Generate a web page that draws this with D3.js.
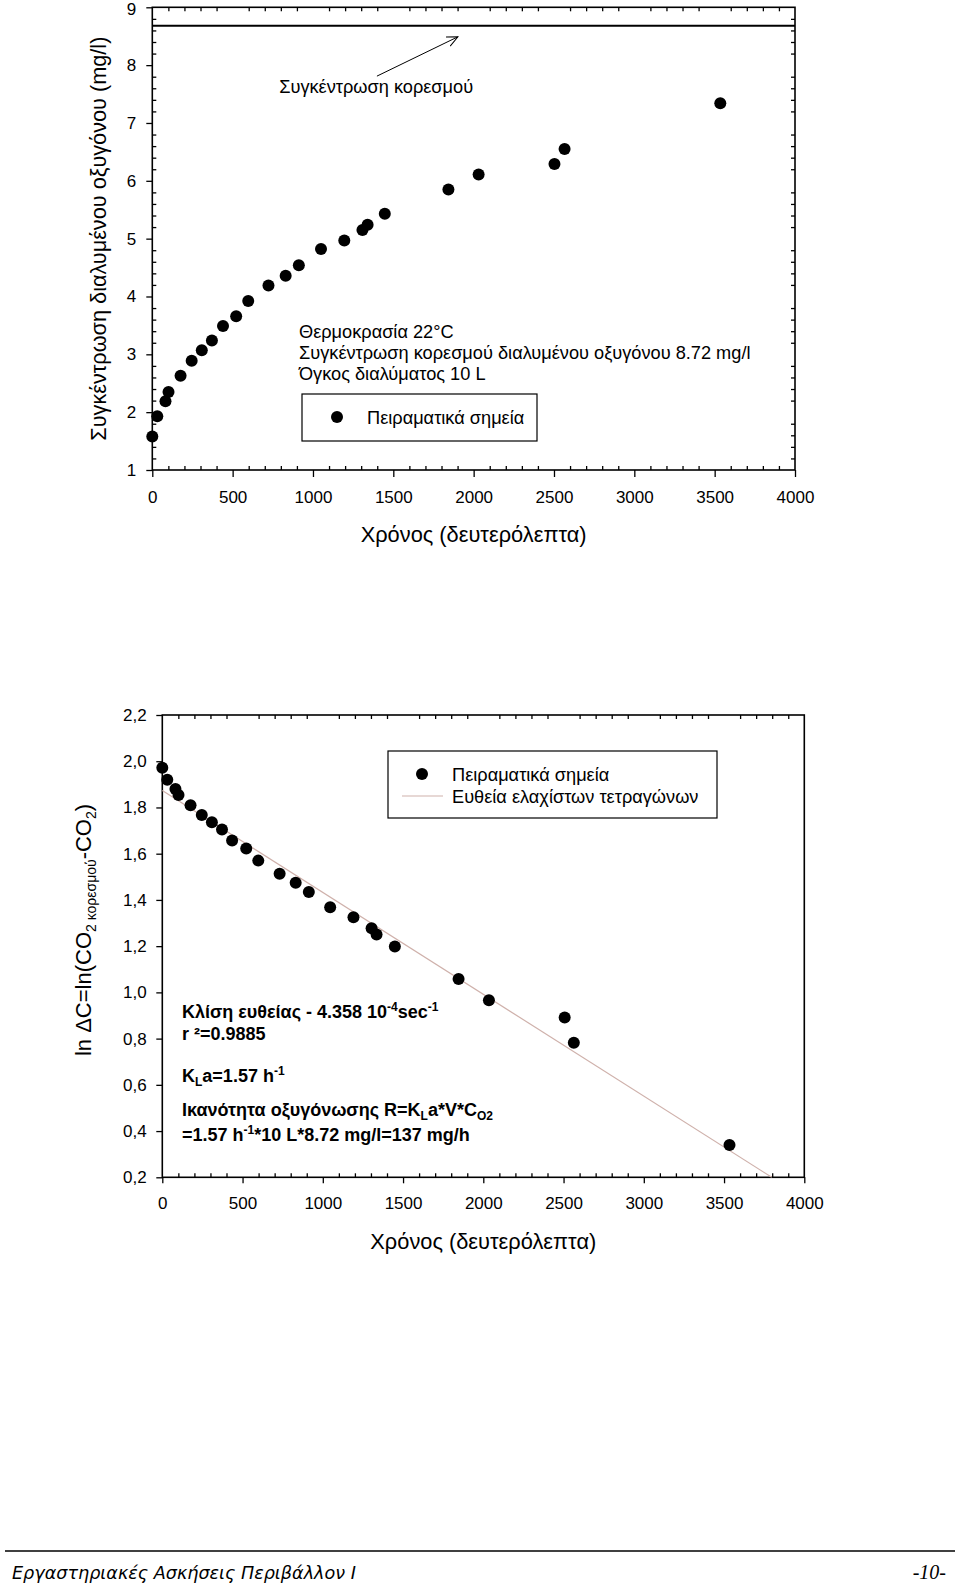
<!DOCTYPE html>
<html><head><meta charset="utf-8">
<script src="https://cdn.jsdelivr.net/npm/d3@7"></script>
<style>
html,body{margin:0;padding:0;background:#fff;}
svg{display:block;}
text{font-family:"Liberation Sans",Arial,sans-serif;fill:#000;}
</style></head>
<body>
<svg id="chart" width="960" height="1584"></svg>
<script>
// ---------- DATA ----------
// Chart 1: dissolved oxygen vs time
const time1 = [0,31,82,101,176,245,308,371,440,522,597,723,830,912,1050,1195,1308,1340,1447,1843,2031,2503,2566,3535];
const oxygen = [1.58,1.93,2.19,2.35,2.63,2.89,3.07,3.24,3.49,3.66,3.92,4.19,4.36,4.54,4.82,4.97,5.15,5.24,5.43,5.85,6.11,6.29,6.55,7.34];
const saturation = 8.68;
const xTicks1 = [0,500,1000,1500,2000,2500,3000,3500,4000];
const yTicks1 = [1,2,3,4,5,6,7,8,9];

// Chart 2: ln(Cs - C) vs time
const time2 = [0,31,82,101,176,246,309,372,435,523,598,731,831,913,1046,1191,1304,1335,1449,1846,2035,2507,2564,3534];
const lnDC = [1.972,1.92,1.88,1.854,1.81,1.767,1.736,1.705,1.657,1.622,1.57,1.513,1.474,1.434,1.368,1.325,1.277,1.25,1.198,1.058,0.966,0.891,0.782,0.34];
const fitX = [0,3797];
const fitY = [1.873,0.2];
const xTicks2 = [0,500,1000,1500,2000,2500,3000,3500,4000];
const yTicks2 = [0.2,0.4,0.6,0.8,1.0,1.2,1.4,1.6,1.8,2.0,2.2];

// ---------- DRAW ----------
const svg = d3.select("#chart");
const minorX = d3.range(0,4001,100);

function frame(g, x, y){
  const [x0,x1]=x.range(), [yb,yt]=y.range();
  g.append("rect").attr("x",x0).attr("y",yt).attr("width",x1-x0).attr("height",yb-yt)
   .attr("fill","none").attr("stroke","#000").attr("stroke-width",1.6);
}
function styleAxis(sel){
  sel.select(".domain").remove();
  sel.selectAll(".tick line").attr("stroke","#000").attr("stroke-width",1.3);
  sel.selectAll(".tick text").style("font-family","'Liberation Sans',Arial,sans-serif").style("font-size","17px").attr("fill","#000");
}

// ===== Chart 1 =====
const x1 = d3.scaleLinear().domain([0,4000]).range([152.3,795]);
const y1 = d3.scaleLinear().domain([1,9]).range([470,7.3]);
const g1 = svg.append("g");

g1.append("g").attr("transform",`translate(0,${y1(1)})`)
  .call(d3.axisBottom(x1).tickValues(xTicks1).tickSize(7).tickPadding(13.5).tickFormat(d3.format("d"))).call(styleAxis);
g1.append("g").attr("transform",`translate(0,${y1(1)})`)
  .call(d3.axisTop(x1).tickValues(minorX.filter(v=>v%500)).tickSize(4).tickFormat("")).call(styleAxis);
g1.append("g").attr("transform",`translate(0,${y1(9)})`)
  .call(d3.axisBottom(x1).tickValues(minorX.filter(v=>v%500)).tickSize(4).tickFormat("")).call(styleAxis);
const yAx1 = g1.append("g").attr("transform",`translate(${x1(0)},0)`)
  .call(d3.axisLeft(y1).tickValues(yTicks1).tickSize(6).tickPadding(10).tickFormat(d3.format("d"))).call(styleAxis);
yAx1.selectAll(".tick text").filter(d=>d===9).attr("dy","0.42em");
const minorY1 = d3.range(1,9.001,0.2).map(v=>+v.toFixed(1)).filter(v=>Math.abs(v-Math.round(v))>1e-6);
g1.append("g").attr("transform",`translate(${x1(0)},0)`)
  .call(d3.axisRight(y1).tickValues(minorY1).tickSize(4).tickFormat("")).call(styleAxis);
g1.append("g").attr("transform",`translate(${x1(4000)},0)`)
  .call(d3.axisLeft(y1).tickValues(minorY1).tickSize(4).tickFormat("")).call(styleAxis);
frame(g1,x1,y1);

// saturation line
g1.append("line").attr("x1",x1(0)).attr("x2",x1(4000)).attr("y1",y1(saturation)).attr("y2",y1(saturation))
  .attr("stroke","#000").attr("stroke-width",2);

// arrow
svg.append("defs").append("marker").attr("id","arr").attr("viewBox","0 0 12 12").attr("refX",11).attr("refY",6)
  .attr("markerWidth",12).attr("markerHeight",12).attr("markerUnits","userSpaceOnUse").attr("orient","auto")
  .append("path").attr("d","M0,1 L11,6 L0,11").attr("fill","none").attr("stroke","#000").attr("stroke-width",1);
g1.append("line").attr("x1",x1(1398)).attr("y1",y1(7.81)).attr("x2",x1(1902)).attr("y2",y1(8.49))
  .attr("stroke","#000").attr("stroke-width",1).attr("marker-end","url(#arr)");
g1.append("text").attr("x",x1(790)).attr("y",y1(7.51)).style("font-size","18.2px").text("Συγκέντρωση κορεσμού");

// points
g1.append("g").selectAll("circle").data(time1.map((t,i)=>[t,oxygen[i]])).join("circle")
  .attr("cx",d=>x1(d[0])).attr("cy",d=>y1(d[1])).attr("r",6).attr("fill","#000");

// info text
const info1 = ["Θερμοκρασία 22°C","Συγκέντρωση κορεσμού διαλυμένου οξυγόνου 8.72 mg/l","Όγκος διαλύματος 10 L"];
g1.append("g").selectAll("text").data(info1).join("text")
  .attr("x",299).attr("y",(d,i)=>338+i*21).style("font-size","18.2px").text(d=>d);
// legend 1
g1.append("rect").attr("x",302).attr("y",394).attr("width",235).attr("height",47)
  .attr("fill","#fff").attr("stroke","#000").attr("stroke-width",1.2);
g1.append("circle").attr("cx",337).attr("cy",417).attr("r",6).attr("fill","#000");
g1.append("text").attr("x",367).attr("y",424).style("font-size","18.2px").text("Πειραματικά σημεία");

// axis titles
g1.append("text").attr("x",(x1(0)+x1(4000))/2).attr("y",542).attr("text-anchor","middle")
  .style("font-size","21.8px").text("Χρόνος (δευτερόλεπτα)");
g1.append("text").attr("transform",`translate(106,${(y1(1)+y1(9))/2}) rotate(-90)`).attr("text-anchor","middle")
  .style("font-size","21.7px").text("Συγκέντρωση διαλυμένου οξυγόνου (mg/l)");

// ===== Chart 2 =====
const x2 = d3.scaleLinear().domain([0,4000]).range([162.3,804.3]);
const y2 = d3.scaleLinear().domain([0.2,2.2]).range([1177.3,715]);
const g2 = svg.append("g");
const commaFmt = v => d3.format(".1f")(v).replace(".",",");

g2.append("g").attr("transform",`translate(0,${y2(0.2)})`)
  .call(d3.axisBottom(x2).tickValues(xTicks2).tickSize(6).tickPadding(13.5).tickFormat(d3.format("d"))).call(styleAxis);
g2.append("g").attr("transform",`translate(0,${y2(0.2)})`)
  .call(d3.axisTop(x2).tickValues(minorX.filter(v=>v%500)).tickSize(4).tickFormat("")).call(styleAxis);
g2.append("g").attr("transform",`translate(0,${y2(2.2)})`)
  .call(d3.axisBottom(x2).tickValues(minorX.filter(v=>v%500)).tickSize(4).tickFormat("")).call(styleAxis);
g2.append("g").attr("transform",`translate(${x2(0)},0)`)
  .call(d3.axisLeft(y2).tickValues(yTicks2).tickSize(6).tickPadding(9.6).tickFormat(commaFmt)).call(styleAxis);
frame(g2,x2,y2);

// regression line
g2.append("line").attr("x1",x2(fitX[0])).attr("y1",y2(fitY[0])).attr("x2",x2(fitX[1])).attr("y2",y2(fitY[1]))
  .attr("stroke","#cfb1ab").attr("stroke-width",1.2);
// points
g2.append("g").selectAll("circle").data(time2.map((t,i)=>[t,lnDC[i]])).join("circle")
  .attr("cx",d=>x2(d[0])).attr("cy",d=>y2(d[1])).attr("r",6).attr("fill","#000");

// legend 2
g2.append("rect").attr("x",388).attr("y",751).attr("width",329).attr("height",67)
  .attr("fill","#fff").attr("stroke","#000").attr("stroke-width",1.2);
g2.append("circle").attr("cx",422).attr("cy",774).attr("r",6).attr("fill","#000");
g2.append("line").attr("x1",402).attr("x2",443).attr("y1",796).attr("y2",796).attr("stroke","#cfb1ab").attr("stroke-width",1.2);
g2.append("text").attr("x",452).attr("y",781).style("font-size","18.2px").text("Πειραματικά σημεία");
g2.append("text").attr("x",452).attr("y",803).style("font-size","18.2px").text("Ευθεία ελαχίστων τετραγώνων");

// bold annotations with sub/superscripts
function rich(parent, x, y, parts){
  const t = parent.append("text").attr("x",x).attr("y",y).style("font-size","18px").style("font-weight","bold");
  let shift = 0;
  parts.forEach(p=>{
    const [s,type] = Array.isArray(p)?p:[p,null];
    let target = type==="sup"?-7:type==="sub"?4:0;
    const ts = t.append("tspan").text(s).attr("dy",target-shift);
    if(type) ts.style("font-size","12px");
    shift = target;
  });
}
rich(g2,182,1018,["Κλίση ευθείας - 4.358 10",["-4","sup"],"sec",["-1","sup"]]);
rich(g2,182,1040,["r ²=0.9885"]);
rich(g2,182,1082,["K",["L","sub"],"a=1.57 h",["-1","sup"]]);
rich(g2,182,1116,["Ικανότητα οξυγόνωσης R=K",["L","sub"],"a*V*C",["O2","sub"]]);
rich(g2,182,1141,["=1.57 h",["-1","sup"],"*10 L*8.72 mg/l=137 mg/h"]);

// axis titles
g2.append("text").attr("x",(x2(0)+x2(4000))/2).attr("y",1249).attr("text-anchor","middle")
  .style("font-size","21.8px").text("Χρόνος (δευτερόλεπτα)");
const yt2 = g2.append("text").attr("transform",`translate(91,930) rotate(-90)`).attr("text-anchor","middle")
  .style("font-size","22px");
yt2.append("tspan").text("ln ΔC=ln(CO");
yt2.append("tspan").text("2 κορεσμού").attr("dy",5).style("font-size","14px");
yt2.append("tspan").text("-CO").attr("dy",-5);
yt2.append("tspan").text("2").attr("dy",5).style("font-size","14px");
yt2.append("tspan").text(")").attr("dy",-5);

// ===== Footer =====
svg.append("line").attr("x1",5).attr("x2",955).attr("y1",1551).attr("y2",1551).attr("stroke","#000").attr("stroke-width",1.5);
svg.append("text").attr("x",12).attr("y",1579).style("font-family","'DejaVu Sans',sans-serif").style("font-style","italic")
  .style("font-size","17.6px").text("Εργαστηριακές Ασκήσεις Περιβάλλον Ι");
svg.append("text").attr("x",946).attr("y",1579).attr("text-anchor","end").style("font-family","'Liberation Serif',serif")
  .style("font-style","italic").style("font-size","20px").text("-10-");
</script>
</body></html>
